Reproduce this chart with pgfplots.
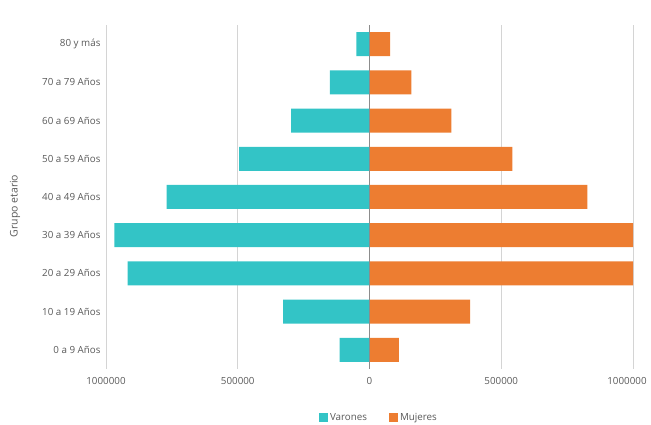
\documentclass[border=0pt]{standalone}
\usepackage{pgfplots}
\pgfplotsset{compat=1.18}
\usepackage{fontspec}
\setmainfont{Open Sans}

\definecolor{varones}{HTML}{33C4C6}
\definecolor{mujeres}{HTML}{ED7D31}
\definecolor{ticktext}{HTML}{595959}
\definecolor{gridgray}{HTML}{D4D4D4}
\definecolor{zerogray}{HTML}{8C8C8C}

\begin{document}
\begin{tikzpicture}
  \useasboundingbox (0pt,0pt) rectangle (651pt,425pt);
  \begin{axis}[
    at={(106pt,56pt)}, anchor=south west,
    width=527pt, height=344pt, scale only axis,
    xbar, bar width=24pt, bar shift=0pt,
    xmin=-1000000, xmax=1000000,
    ymin=-0.5, ymax=8.5,
    axis line style={draw=none},
    major tick length=0pt,
    xtick={-1000000,-500000,0,500000},
    xticklabels={1000000,500000,0,500000},
    extra x ticks={1000000},
    extra x tick labels={1000000},
    extra x tick style={grid=major, xticklabel style={xshift=-6pt}},
    scaled x ticks=false,
    ytick={0,...,8},
    yticklabels={0 a 9 Años,10 a 19 Años,20 a 29 Años,30 a 39 Años,40 a 49 Años,50 a 59 Años,60 a 69 Años,70 a 79 Años,80 y más},
    xmajorgrids, grid style={gridgray, line width=0.8pt},
    ticklabel style={font=\fontsize{9.8}{11}\selectfont, text=ticktext},
    xticklabel style={yshift=-5pt},
    yticklabel style={xshift=-2pt},
    /pgf/number format/assume math mode=true,
    legend style={at={(0.518,-0.142)}, anchor=center, draw=none,
      legend columns=2, font=\fontsize{9.8}{11}\selectfont, text=ticktext,
      /tikz/every even column/.append style={column sep=20pt}},
    legend image code/.code={\fill[#1] (-2pt,-4.5pt) rectangle (7pt,4.5pt);},
  ]
    % Varones drawn to the left (negative values)
    \addplot[fill=varones, draw=none] coordinates {
      (-113000,0) (-328000,1) (-918000,2) (-968000,3) (-770000,4)
      (-495000,5) (-297000,6) (-150000,7) (-50000,8)};
    \addlegendentry{Varones}
    % Mujeres drawn to the right
    \addplot[fill=mujeres, draw=none] coordinates {
      (111000,0) (382000,1) (1000000,2) (1000000,3) (827000,4)
      (542000,5) (311000,6) (159000,7) (78000,8)};
    \addlegendentry{Mujeres}
    % central axis over the bars
    \draw[zerogray, line width=0.9pt] (axis cs:0,-0.5) -- (axis cs:0,8.5);
  \end{axis}
  \node[rotate=90, font=\fontsize{10.5}{12}\selectfont, text=ticktext] at (15pt,219pt) {Grupo etario};
\end{tikzpicture}
\end{document}
